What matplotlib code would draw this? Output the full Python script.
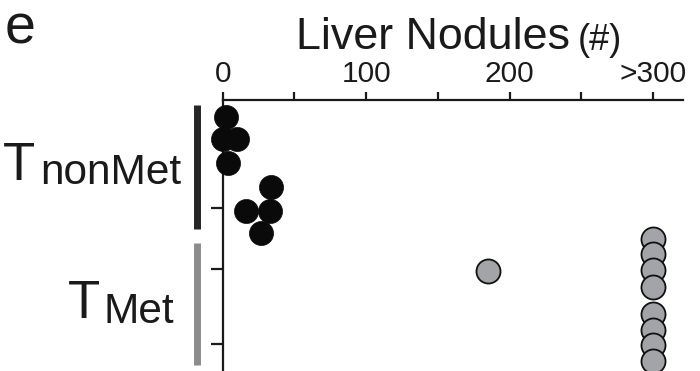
import matplotlib
matplotlib.use("Agg")
import matplotlib.pyplot as plt
import matplotlib.transforms as mtransforms

plt.rcParams["font.family"] = ["Liberation Sans", "DejaVu Sans"]

# liver nodule counts (x) and swarm row positions (y, counted down from the axis)
nonmet_nodules = [2, 0, 10, 4, 34, 16, 33, 27]
nonmet_rows = [17, 39, 39, 63, 87, 111, 111, 133]
met_nodules = [300, 300, 300, 185, 300, 300, 300, 300, 300]
met_rows = [139, 154, 170, 171, 187, 214, 230, 245, 261]

tick_values = [0, 100, 200, 300]
tick_labels = ["0", "100", "200", ">300"]
minor_values = [50, 150, 250]
row_ticks = [108, 169, 244]

W, H = 700, 371
fig = plt.figure(figsize=(7, 3.71), dpi=100)
ax = fig.add_axes([222.7 / W, 0, (683 - 222.7) / W, 271 / H])

ink = "#1a1a1a"
ax.scatter(nonmet_nodules, nonmet_rows, s=300, color="#0a0a0a",
           edgecolor="#0a0a0a", linewidth=0.5, clip_on=False, zorder=3)
order = sorted(range(len(met_rows)), key=lambda i: met_rows[i])
for i in order:
    ax.scatter(met_nodules[i], met_rows[i], s=300, color="#a2a4a8",
               edgecolor="#111111", linewidth=1.3, clip_on=False, zorder=3)

ax.set_xlim(0, 320.8)
ax.set_ylim(271, 0)

for side in ["bottom", "right"]:
    ax.spines[side].set_visible(False)
for side in ["top", "left"]:
    ax.spines[side].set_linewidth(1.6)
    ax.spines[side].set_color(ink)

ax.xaxis.tick_top()
ax.set_xticks(tick_values)
ax.set_xticklabels(tick_labels, fontsize=21.5, color=ink)
ax.set_xticks(minor_values, minor=True)
ax.tick_params(axis="x", which="both", length=5.5, width=1.6, pad=3.5, color=ink)
ax.set_yticks(row_ticks)
ax.set_yticklabels([])
ax.tick_params(axis="y", length=8.5, width=1.6, color=ink)

# group bars beside the y axis
trans = mtransforms.blended_transform_factory(ax.transAxes, ax.transData)
ax.plot([-0.0558, -0.0558], [5, 129], color="#262626", linewidth=5,
        solid_capstyle="butt", transform=trans, clip_on=False)
ax.plot([-0.0558, -0.0558], [143, 265], color="#8c8c8c", linewidth=5,
        solid_capstyle="butt", transform=trans, clip_on=False)

def put(x, y, s, size, ha="left"):
    fig.text(x / W, 1 - y / H, s, fontsize=size, color=ink,
             ha=ha, va="baseline")

put(5, 43, "e", 40)
put(296, 49, "Liver Nodules", 32.3)
put(578, 50, "(#)", 26)
put(3, 180, "T", 38)
put(181, 184, "nonMet", 30.5, ha="right")
put(68, 318, "T", 38)
put(174, 322.7, "Met", 30.5, ha="right")

fig.savefig("out.png", dpi=100)
